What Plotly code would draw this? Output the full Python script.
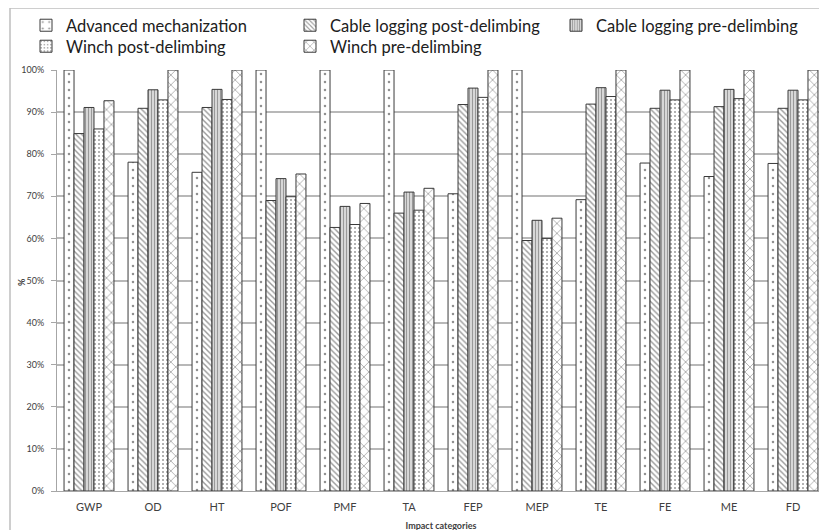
import plotly.graph_objects as go

categories = ["GWP", "OD", "HT", "POF", "PMF", "TA", "FEP", "MEP", "TE", "FE", "ME", "FD"]

advanced_mechanization = [100, 78.1, 75.7, 100, 100, 100, 70.6, 100, 69.2, 77.9, 74.7, 77.8]
cable_post = [84.9, 90.9, 91.1, 69.0, 62.6, 66.0, 91.8, 59.5, 91.9, 90.9, 91.3, 90.9]
cable_pre = [91.1, 95.3, 95.4, 74.2, 67.6, 71.0, 95.7, 64.3, 95.8, 95.2, 95.4, 95.2]
winch_post = [86.0, 92.9, 93.0, 69.9, 63.3, 66.7, 93.5, 60.0, 93.7, 92.9, 93.2, 92.9]
winch_pre = [92.7, 100, 100, 75.3, 68.3, 71.9, 100, 64.8, 100, 100, 100, 100]

series_names = ["Advanced mechanization", "Cable logging post-delimbing",
                "Cable logging pre-delimbing", "Winch post-delimbing", "Winch pre-delimbing"]
series_values = [advanced_mechanization, cable_post, cable_pre, winch_post, winch_pre]
legend_ids = ["legend", "legend2", "legend3", "legend4", "legend5"]
patterns = [
    dict(shape=".", size=8, solidity=0.08, fgcolor="#222222", bgcolor="white"),
    dict(shape="\\", size=4, solidity=0.35, fgcolor="#333333", bgcolor="white"),
    dict(shape="|", size=3, solidity=0.6, fgcolor="#333333", bgcolor="white"),
    dict(shape=".", size=4, solidity=0.2, fgcolor="#333333", bgcolor="white"),
    dict(shape="x", size=7, solidity=0.2, fgcolor="#333333", bgcolor="white"),
]

fig = go.Figure()
for name, vals, pat, lg in zip(series_names, series_values, patterns, legend_ids):
    fig.add_trace(go.Bar(
        x=categories, y=[v / 100 for v in vals], name=name, legend=lg, showlegend=True,
        marker=dict(color="white", pattern=pat, line=dict(color="#3a3a3a", width=1)),
    ))

# page body has an 8px margin, so figure coords = screen coords - 8
OFF = 8
W, H = 827, 530
PL, PR, PT, PB = 57 - OFF, 825 - OFF, 70 - OFF, 491 - OFF
PW, PH = PR - PL, PB - PT

def px_x(sx):
    return (sx - OFF - PL) / PW

def px_y(sy):
    return (PB - (sy - OFF)) / PH

legend_common = dict(
    orientation="v", xanchor="left", yanchor="top", visible=True,
    font=dict(size=16.5, color="#202020"), itemwidth=30,
    bgcolor="rgba(0,0,0,0)", tracegroupgap=0,
)
row1, row2 = px_y(8), px_y(29)
col1, col2, col3 = px_x(26), px_x(290), px_x(556)

fig.update_layout(
    width=W, height=H, showlegend=True,
    barmode="group", bargap=0.22, bargroupgap=0,
    plot_bgcolor="white", paper_bgcolor="white",
    margin=dict(l=PL, r=W - PR, t=PT, b=H - PB, autoexpand=False),
    font=dict(family="Lato, Liberation Sans, sans-serif", color="#404040"),
    legend=dict(legend_common, x=col1, y=row1),
    legend2=dict(legend_common, x=col2, y=row1),
    legend3=dict(legend_common, x=col3, y=row1),
    legend4=dict(legend_common, x=col1, y=row2),
    legend5=dict(legend_common, x=col2, y=row2),
    xaxis=dict(
        showline=True, linecolor="#a6a6a6", linewidth=1, ticks="", automargin=False,
        tickfont=dict(size=11, color="#404040"), ticklabelstandoff=6,
        title=dict(text="<b>Impact categories</b>", font=dict(size=9, color="#404040"), standoff=10),
    ),
    yaxis=dict(
        range=[0, 1], tickvals=[i / 10 for i in range(11)], tickformat=".0%",
        showgrid=True, gridcolor="#b8b8b8", gridwidth=1.5, automargin=False,
        showline=True, linecolor="#a6a6a6", linewidth=1,
        ticks="outside", ticklen=5, tickcolor="#a6a6a6", ticklabelstandoff=5,
        tickfont=dict(size=9, color="#404040"),
    ),
    annotations=[dict(text="<b>%</b>", xref="paper", yref="paper", x=px_x(21), y=px_y(282),
                      xanchor="center", yanchor="middle",
                      showarrow=False, font=dict(size=9, color="#404040"), textangle=-90)],
    shapes=[dict(type="rect", xref="paper", yref="paper",
                 x0=px_x(10), x1=1.2, y0=-0.3, y1=px_y(8),
                 line=dict(color="#bfbfbf", width=1.5), fillcolor="rgba(0,0,0,0)", layer="below")],
)

fig.write_html("out.html")
